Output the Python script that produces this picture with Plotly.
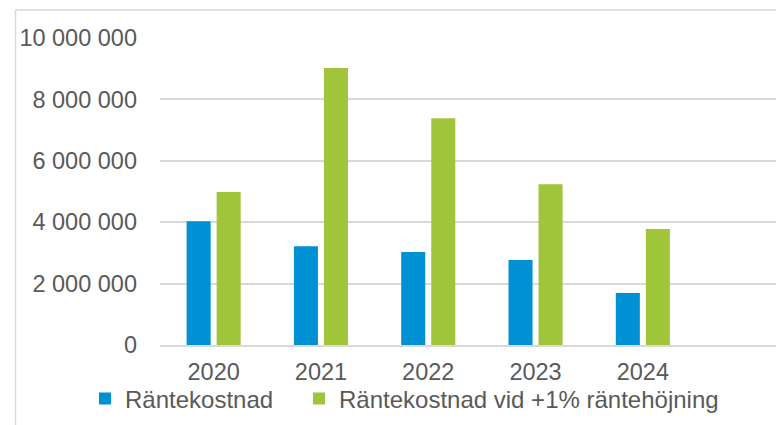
import plotly.graph_objects as go

years = ["2020", "2021", "2022", "2023", "2024"]
rantekostnad = [4030000, 3220000, 3030000, 2770000, 1690000]
rantekostnad_hojning = [4980000, 9020000, 7390000, 5240000, 3780000]
series_names = ["Räntekostnad", "Räntekostnad vid +1% räntehöjning"]
y_ticks = [0, 2000000, 4000000, 6000000, 8000000, 10000000]

xpos = list(range(len(years)))

# page has an 8px body margin; work in reference pixel coords and shift
O = 8
W, H = 784 - O, 425 - O
L, T = 160 - O, 38 - O
B = H - (345 - O)
R = 0
pw, ph = W - L - R, H - T - B

def px_x(p):
    return (p - O - L) / pw

def px_y(p):
    return (H - B - (p - O)) / ph

fig = go.Figure()
fig.add_trace(go.Bar(x=xpos, y=rantekostnad, name=series_names[0], legend="legend",
                     marker=dict(color="#0090D4", line=dict(width=0))))
fig.add_trace(go.Bar(x=xpos, y=rantekostnad_hojning, name=series_names[1], legend="legend2",
                     marker=dict(color="#A0C43A", line=dict(width=0))))

font = dict(family="Liberation Sans, Arial, sans-serif", size=23.5, color="#595959")
lfont = dict(family="Liberation Sans, Arial, sans-serif", size=24, color="#595959")

leg_common = dict(orientation="h", yanchor="middle", xanchor="left", font=lfont,
                  bgcolor="rgba(0,0,0,0)", itemclick=False, itemwidth=30)

fig.update_layout(
    width=W, height=H,
    margin=dict(l=L, r=R, t=T, b=B),
    paper_bgcolor="white", plot_bgcolor="white",
    separators=", ",
    barmode="group", bargap=0.44, bargroupgap=0.2,
    font=font,
    showlegend=True,
    legend=dict(x=px_x(85), y=px_y(399), **leg_common),
    legend2=dict(x=px_x(299), y=px_y(399), **leg_common),
    xaxis=dict(range=[-0.5, -0.5 + pw / 107.3], tickvals=xpos, ticktext=years,
               showgrid=False, zeroline=False, showline=True, linecolor="#d9d9d9",
               linewidth=1.5, ticks="", tickfont=font, ticklabelstandoff=5,
               fixedrange=True),
    yaxis=dict(range=[0, 10000000], tickvals=y_ticks, tickformat=",d",
               showgrid=True, gridcolor="#d9d9d9", gridwidth=1.5,
               zeroline=False, showline=False, ticks="", tickfont=font,
               ticklabelstandoff=22, fixedrange=True),
    shapes=[
        dict(type="line", xref="paper", yref="paper", x0=px_x(15.5), x1=px_x(15.5),
             y0=px_y(10), y1=px_y(440), line=dict(color="#d9d9d9", width=1.5)),
        dict(type="line", xref="paper", yref="paper", x0=px_x(15.5), x1=px_x(800),
             y0=px_y(10), y1=px_y(10), line=dict(color="#d9d9d9", width=1.5)),
    ],
)

fig.write_html("out.html", config={"displayModeBar": False})
